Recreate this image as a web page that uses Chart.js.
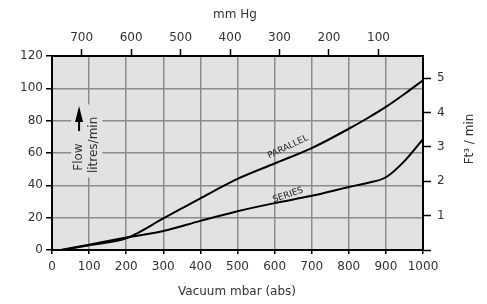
<!DOCTYPE html>
<html>
<head>
<meta charset="utf-8">
<script src="https://cdn.jsdelivr.net/npm/chart.js@4"></script>
<style>
  body { margin: 0; background: #fff; }
  #wrap { width: 487px; height: 304px; }
</style>
</head>
<body>
<div id="wrap"><canvas id="vacChart"></canvas></div>
<script>
// values
const mbar = [25, 100, 200, 300, 400, 500, 600, 700, 800, 850, 900, 950, 1000];
const parallelFlow = [0, 3, 7.3, 19.5, 32, 44, 53.5, 63, 75, 81.5, 88.5, 96.5, 105];
const seriesFlow = [0, 3.3, 7.7, 11.7, 18, 24, 29, 33.5, 39, 41.5, 45, 55, 68.6];
const mbarTicks = [0, 100, 200, 300, 400, 500, 600, 700, 800, 900, 1000];
const mmHgTicks = [100, 200, 300, 400, 500, 600, 700];
const cfmTicks = [0, 1, 2, 3, 4, 5];

const FONT = 'DejaVu Sans';
const toMmHg = (v) => (1013.25 - v) * 0.750062;

const pts = (ys) => mbar.map((x, i) => ({ x: x, y: ys[i] }));

const decor = {
    id: 'decor',
    beforeDraw(chart) {
        const { ctx, chartArea: a } = chart;
        ctx.save();
        ctx.fillStyle = '#e2e2e2';
        ctx.fillRect(a.left, a.top, a.right - a.left, a.bottom - a.top);
        ctx.restore();
    },
    beforeDatasetsDraw(chart) {
        const { ctx, scales } = chart;
        const x = scales.x, y = scales.y;
        ctx.save();
        // box behind the flow label
        ctx.fillStyle = '#e2e2e2';
        ctx.fillRect(x.getPixelForValue(52), y.getPixelForValue(90), 31, 73);
        // arrow
        const ax = x.getPixelForValue(73);
        const tip = y.getPixelForValue(89);
        ctx.fillStyle = '#000';
        ctx.beginPath();
        ctx.moveTo(ax, tip);
        ctx.lineTo(ax - 4, tip + 16);
        ctx.lineTo(ax + 4, tip + 16);
        ctx.closePath();
        ctx.fill();
        ctx.fillRect(ax - 1, tip + 14, 2, 11);
        // rotated label
        ctx.fillStyle = '#333';
        ctx.font = '12px ' + FONT;
        ctx.textAlign = 'center';
        ctx.textBaseline = 'middle';
        ctx.translate(x.getPixelForValue(73), y.getPixelForValue(57.5));
        ctx.rotate(-Math.PI / 2);
        ctx.fillText('Flow', 0, 0);
        ctx.restore();
        ctx.save();
        ctx.fillStyle = '#333';
        ctx.font = '12px ' + FONT;
        ctx.textAlign = 'center';
        ctx.textBaseline = 'middle';
        ctx.translate(x.getPixelForValue(113), y.getPixelForValue(65));
        ctx.rotate(-Math.PI / 2);
        ctx.fillText('litres/min', 0, 0);
        ctx.restore();
    },
    afterDatasetsDraw(chart) {
        const { ctx, scales } = chart;
        const x = scales.x, y = scales.y;
        const label = (txt, mx, vy, deg) => {
            ctx.save();
            ctx.fillStyle = '#222';
            ctx.font = '9px ' + FONT;
            ctx.textAlign = 'center';
            ctx.textBaseline = 'middle';
            ctx.translate(x.getPixelForValue(mx), y.getPixelForValue(vy));
            ctx.rotate(-deg * Math.PI / 180);
            ctx.fillText(txt, 0, 0);
            ctx.restore();
        };
        label('PARALLEL', 636, 63.7, 25.5);
        label('SERIES', 636, 34, 18.7);
    },
    afterDraw(chart) {
        const { ctx } = chart;
        ctx.save();
        ctx.fillStyle = '#333';
        ctx.font = '12px ' + FONT;
        ctx.textAlign = 'center';
        ctx.textBaseline = 'middle';
        ctx.fillText('mm Hg', 235, 15);
        ctx.fillText('Vacuum mbar (abs)', 237, 292);
        ctx.translate(470, 139);
        ctx.rotate(-Math.PI / 2);
        ctx.fillText('Ft\u00b3 / min', 0, 0);
        ctx.restore();
    }
};

const tickFont = { family: FONT, size: 12 };
const plain = (v) => String(v);

new Chart(document.getElementById('vacChart'), {
    type: 'line',
    data: {
        datasets: [{
            label: 'Parallel',
            data: pts(parallelFlow),
            borderColor: '#000',
            borderWidth: 2,
            pointRadius: 0,
            cubicInterpolationMode: 'monotone',
            fill: false
        }, {
            label: 'Series',
            data: pts(seriesFlow),
            borderColor: '#000',
            borderWidth: 2,
            pointRadius: 0,
            cubicInterpolationMode: 'monotone',
            fill: false
        }]
    },
    options: {
        responsive: true,
        maintainAspectRatio: false,
        animation: false,
        layout: { padding: 0 },
        plugins: { legend: { display: false }, tooltip: { enabled: false } },
        scales: {
            x: {
                type: 'linear', position: 'bottom', min: 0, max: 1000,
                afterBuildTicks: (s) => { s.ticks = mbarTicks.map((v) => ({ value: v })); },
                ticks: { autoSkip: false, color: '#333', font: tickFont, padding: 6, maxRotation: 0, callback: plain },
                grid: { color: '#8c8c8c', lineWidth: 1.5, tickColor: '#000', tickLength: 4, tickWidth: 1.5 },
                border: { color: '#000', width: 2 },
                afterFit: (s) => { s.height = 54; }
            },
            x2: {
                type: 'linear', position: 'top', reverse: true,
                min: toMmHg(1000), max: toMmHg(0),
                afterBuildTicks: (s) => { s.ticks = mmHgTicks.map((v) => ({ value: v })); },
                ticks: { autoSkip: false, color: '#333', font: tickFont, padding: 4, maxRotation: 0, callback: plain },
                grid: { drawOnChartArea: false, tickColor: '#000', tickLength: 7, tickWidth: 1.5 },
                border: { color: '#000', width: 2 },
                afterFit: (s) => { s.height = 56; }
            },
            y: {
                type: 'linear', position: 'left', min: 0, max: 120,
                ticks: { stepSize: 20, autoSkip: false, color: '#333', font: tickFont, padding: 3 },
                grid: { color: '#8c8c8c', lineWidth: 1.5, tickColor: '#000', tickLength: 6, tickWidth: 1.5 },
                border: { color: '#000', width: 2 },
                afterFit: (s) => { s.width = 52; }
            },
            y2: {
                type: 'linear', position: 'right', min: 0, max: 5.65,
                afterBuildTicks: (s) => { s.ticks = cfmTicks.map((v) => ({ value: v })); },
                ticks: { autoSkip: false, color: '#333', font: tickFont, padding: 6, callback: (v) => (v === 0 ? '' : String(v)) },
                grid: { drawOnChartArea: false, tickColor: '#000', tickLength: 8, tickWidth: 1.5 },
                border: { color: '#000', width: 2 },
                afterFit: (s) => { s.width = 64; }
            }
        }
    },
    plugins: [decor]
});
</script>
</body>
</html>
